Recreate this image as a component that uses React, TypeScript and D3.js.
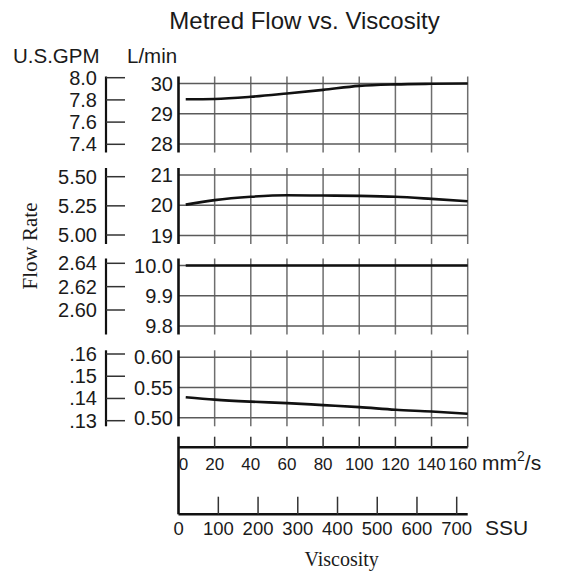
import * as d3 from 'd3';

// viscosity in mm²/s at which the curves were read
const viscosity = [4, 20, 40, 60, 80, 100, 120, 140, 160];

// flow in L/min per panel
const flow1 = [29.48, 29.49, 29.56, 29.67, 29.79, 29.92, 29.97, 29.99, 30.0];
const flow2 = [20.02, 20.17, 20.28, 20.33, 20.32, 20.31, 20.28, 20.21, 20.13];
const flow3 = [10.0, 10.0, 10.0, 10.0, 10.0, 10.0, 10.0, 10.0, 10.0];
const flow4 = [0.534, 0.53, 0.5267, 0.5243, 0.521, 0.5177, 0.5133, 0.5105, 0.5067];

const lminTicks1 = [30, 29, 28];
const lminTicks2 = [21, 20, 19];
const lminTicks3 = [10.0, 9.9, 9.8];
const lminTicks4 = [0.6, 0.55, 0.5];

const gpmTicks1 = [8.0, 7.8, 7.6, 7.4];
const gpmTicks2 = [5.5, 5.25, 5.0];
const gpmTicks3 = [2.64, 2.62, 2.6];
const gpmTicks4 = [0.16, 0.15, 0.14, 0.13];

const mm2Ticks = [0, 20, 40, 60, 80, 100, 120, 140, 160];
const ssuTicks = [0, 100, 200, 300, 400, 500, 600, 700];

const W = 563;
const H = 575;
const SANS = '"Liberation Sans", Arial, Helvetica, sans-serif';
const SERIF = '"Liberation Serif", "Times New Roman", serif';

const x = d3.scaleLinear().domain([0, 160]).range([178.5, 467.7]);
const xSsu = d3.scaleLinear().domain([0, 700]).range([178.6, 456.7]);

const panels = [
  { flow: flow1, lTicks: lminTicks1, lFmt: d3.format('d'), gTicks: gpmTicks1, gFmt: d3.format('.1f'), top: 83.5, gRange: [77.7, 144.3] },
  { flow: flow2, lTicks: lminTicks2, lFmt: d3.format('d'), gTicks: gpmTicks2, gFmt: d3.format('.2f'), top: 175, gRange: [176.7, 235] },
  { flow: flow3, lTicks: lminTicks3, lFmt: d3.format('.1f'), gTicks: gpmTicks3, gFmt: d3.format('.2f'), top: 265.5, gRange: [263.3, 310] },
  { flow: flow4, lTicks: lminTicks4, lFmt: d3.format('.2f'), gTicks: gpmTicks4, gFmt: (v: number) => d3.format('.2f')(v).replace(/^0/, ''), top: 357.3, gRange: [354, 420.7] },
];

function Panel({ p }: { p: typeof panels[number] }) {
  const lExt = d3.extent(p.lTicks) as [number, number];
  const y = d3.scaleLinear().domain([lExt[1], lExt[0]]).range([p.top, p.top + 60.5]);
  const gExt = d3.extent(p.gTicks) as [number, number];
  const yg = d3.scaleLinear().domain([gExt[1], gExt[0]]).range(p.gRange);
  const axTop = p.top - 7;
  const axBot = p.top + 69;
  const line = d3.line<number>()
    .x((_, i) => x(viscosity[i]))
    .y(d => y(d))
    .curve(d3.curveMonotoneX);

  return (
    <g>
      {/* vertical grid */}
      {mm2Ticks.slice(1).map(t => (
        <line key={'v' + t} x1={x(t)} x2={x(t)} y1={axTop} y2={axBot} stroke="#6e6e6e" strokeWidth={1.5} />
      ))}
      {/* horizontal grid */}
      {p.lTicks.map(t => (
        <line key={'h' + t} x1={x(0)} x2={x(160)} y1={y(t)} y2={y(t)} stroke="#5a5a5a" strokeWidth={1.4} />
      ))}
      <line x1={x(0)} x2={x(0)} y1={axTop} y2={axBot} stroke="#111" strokeWidth={2.6} />
      {p.lTicks.map(t => (
        <text key={'l' + t} x={173} y={y(t)} dy="0.35em" textAnchor="end" fontSize={20} fontFamily={SANS} fill="#1a1a1a">
          {p.lFmt(t)}
        </text>
      ))}
      {/* US GPM axis */}
      <line x1={106} x2={106} y1={axTop} y2={axBot} stroke="#111" strokeWidth={2.2} />
      {p.gTicks.map(t => (
        <g key={'g' + t}>
          <line x1={106} x2={125} y1={yg(t)} y2={yg(t)} stroke="#333" strokeWidth={1.5} />
          <text x={97} y={yg(t)} dy="0.35em" textAnchor="end" fontSize={20} fontFamily={SANS} fill="#1a1a1a">
            {p.gFmt(t)}
          </text>
        </g>
      ))}
      <path d={line(p.flow) || ''} fill="none" stroke="#111" strokeWidth={2.6} />
    </g>
  );
}

export default function App() {
  const mmY = 447.3;
  const ssuY = 514.3;
  // end labels of the mm²/s scale are nudged inward, as in the original
  const mmNudge = (t: number) => (t === 0 ? 5 : t === 160 ? -5 : 0);
  return (
    <svg width={W} height={H} style={{ position: 'absolute', left: 0, top: 0, background: '#fff' }}>
      <text x={304.5} y={29} textAnchor="middle" fontSize={24} fontFamily={SANS} fill="#1a1a1a">
        Metred Flow vs. Viscosity
      </text>
      <text x={13} y={63} fontSize={20.5} fontFamily={SANS} fill="#1a1a1a">U.S.GPM</text>
      <text x={127} y={63} fontSize={20.5} fontFamily={SANS} fill="#1a1a1a">L/min</text>
      <text transform="translate(37,246) rotate(-90)" textAnchor="middle" fontSize={21} fontFamily={SERIF} fill="#1a1a1a">
        Flow Rate
      </text>

      {panels.map((p, i) => <Panel key={i} p={p} />)}

      {/* viscosity axes */}
      <line x1={x(0)} x2={x(0)} y1={436.7} y2={ssuY} stroke="#111" strokeWidth={2.6} />
      <line x1={x(0)} x2={x(160)} y1={mmY} y2={mmY} stroke="#111" strokeWidth={2.4} />
      {mm2Ticks.slice(1).map(t => (
        <line key={'mt' + t} x1={x(t)} x2={x(t)} y1={436.7} y2={mmY} stroke="#333" strokeWidth={1.5} />
      ))}
      {mm2Ticks.map(t => (
        <text key={'ml' + t} x={x(t) + mmNudge(t)} y={470} textAnchor="middle" fontSize={17} fontFamily={SANS} fill="#1a1a1a">
          {t}
        </text>
      ))}
      <text x={482} y={470} fontSize={21} fontFamily={SANS} fill="#1a1a1a">
        mm<tspan fontSize={14} dy={-9}>2</tspan><tspan dy={9}>/s</tspan>
      </text>

      <line x1={x(0)} x2={x(160)} y1={ssuY} y2={ssuY} stroke="#111" strokeWidth={2.4} />
      {ssuTicks.slice(1).map(t => (
        <line key={'st' + t} x1={xSsu(t)} x2={xSsu(t)} y1={496.7} y2={ssuY} stroke="#333" strokeWidth={1.5} />
      ))}
      {ssuTicks.map(t => (
        <text key={'sl' + t} x={xSsu(t)} y={535} textAnchor="middle" fontSize={18.5} fontFamily={SANS} fill="#1a1a1a">
          {t}
        </text>
      ))}
      <text x={485} y={535} fontSize={21} fontFamily={SANS} fill="#1a1a1a">SSU</text>

      <text x={341.7} y={566} textAnchor="middle" fontSize={20} fontFamily={SERIF} fill="#1a1a1a">
        Viscosity
      </text>
    </svg>
  );
}
